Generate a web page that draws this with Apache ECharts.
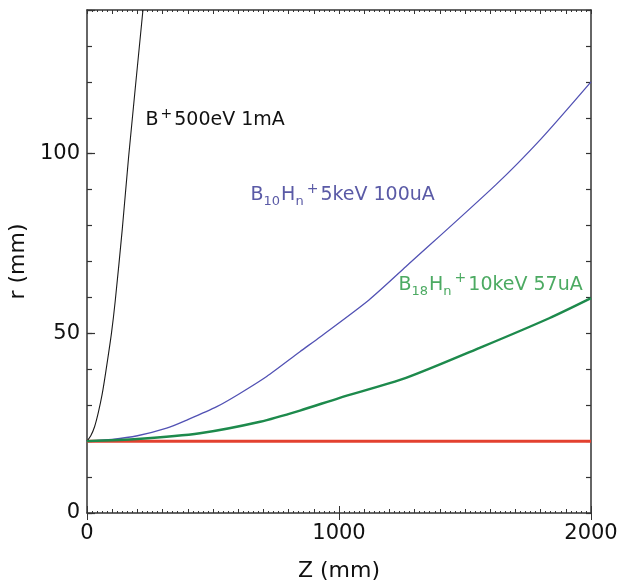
<!DOCTYPE html>
<html>
<head>
<meta charset="utf-8">
<script src="https://cdn.jsdelivr.net/npm/echarts@6/dist/echarts.min.js"></script>
<style>
  html, body { margin: 0; padding: 0; background: #fff; }
  #chart { width: 636px; height: 587px; }
</style>
</head>
<body>
<div id="chart"></div>
<script>
// Beam radius r (mm) vs. drift distance Z (mm) for several boron beams
const zB1 = [0, 15, 30, 45, 60, 75, 97, 112, 140, 165, 222];
const rB1 = [20, 21.5, 24, 28, 33, 39.5, 50, 59, 79, 99, 140];

const zB10 = [0, 100, 200, 316, 400, 515, 600, 713, 845, 925, 1119, 1266, 1623, 1800, 2000];
const rB10 = [20, 20.5, 21.5, 23.6, 26, 29.6, 33, 38, 44.9, 49, 59.3, 68.6, 91.4, 104, 120];

const zB18 = [0, 200, 448, 687, 845, 1000, 1266, 1570, 1834, 2000];
const rB18 = [20, 20.6, 22.2, 25.4, 28.5, 32, 37.6, 46.3, 54.2, 59.8];

const zRef = [0, 2000];
const rRef = [20, 20];

const xLabels = [0, 1000, 2000];
const yLabels = [0, 50, 100];

const labelB1 = { z: 230, r: 109.4 };
const labelB10 = { z: 647, r: 88.5 };
const labelB18 = { z: 1234, r: 63.5 };

const pairs = (xs, ys) => xs.map((x, i) => [x, ys[i]]);

const FONT = '"DejaVu Sans", Verdana, sans-serif';
const AXIS = '#333';

function richStyle(color) {
  return {
    b: { fontSize: 19, color: color, fontFamily: FONT, lineHeight: 26 },
    sub: { fontSize: 13, color: color, fontFamily: FONT, verticalAlign: 'bottom', padding: [7, 1, 0, 0] },
    sup: { fontSize: 14, color: color, fontFamily: FONT, verticalAlign: 'top', padding: [0, 2, 9, 2] }
  };
}

// Curve caption anchored at a data coordinate, drawn with rich text
function tag(pos, text, color) {
  return {
    symbol: 'circle',
    symbolSize: 1,
    silent: true,
    itemStyle: { color: 'rgba(0,0,0,0)' },
    label: {
      show: true,
      position: 'right',
      distance: 0,
      formatter: text,
      rich: richStyle(color)
    },
    data: [{ coord: [pos.z, pos.r] }]
  };
}

const chart = echarts.init(document.getElementById('chart'));

const xTickBase = {
  type: 'value', min: 0, max: 2000, interval: 100,
  axisLine: { show: true, onZero: false, lineStyle: { color: AXIS, width: 1.5 } },
  splitLine: { show: false },
  axisTick: { show: true, inside: true, length: 4, lineStyle: { color: AXIS, width: 1 } },
  minorTick: { show: true, splitNumber: 5, length: 2, lineStyle: { color: AXIS, width: 1 } },
  axisLabel: { show: false }
};

const yTickBase = {
  type: 'value', min: 0, max: 140, interval: 10,
  axisLine: { show: true, onZero: false, lineStyle: { color: AXIS, width: 1.5 } },
  splitLine: { show: false },
  axisTick: { show: true, inside: true, length: 5, lineStyle: { color: AXIS, width: 1.2 } },
  axisLabel: { show: false }
};

chart.setOption({
  animation: false,
  backgroundColor: '#fff',
  grid: { left: 87, right: 45, top: 10, bottom: 74, containLabel: false, outerBoundsMode: 'none' },
  xAxis: [
    Object.assign({}, xTickBase, {
      position: 'bottom',
      name: 'Z (mm)', nameLocation: 'middle', nameGap: 47,
      nameTextStyle: { fontSize: 22, color: '#111', fontFamily: FONT },
      axisLabel: {
        show: true, fontSize: 21, color: '#111', fontFamily: FONT, margin: 10,
        formatter: v => (xLabels.includes(v) ? String(v) : '')
      }
    }),
    Object.assign({}, xTickBase, { position: 'top' }),
    {
      type: 'value', min: 0, max: 2000, interval: 1000, position: 'bottom',
      axisLine: { show: false }, splitLine: { show: false }, axisLabel: { show: false },
      axisTick: { show: true, inside: true, length: 7, lineStyle: { color: AXIS, width: 1 } }
    },
    {
      type: 'value', min: 0, max: 2000, interval: 1000, position: 'top',
      axisLine: { show: false }, splitLine: { show: false }, axisLabel: { show: false },
      axisTick: { show: true, inside: true, length: 7, lineStyle: { color: AXIS, width: 1 } }
    }
  ],
  yAxis: [
    Object.assign({}, yTickBase, {
      position: 'left',
      name: 'r (mm)', nameLocation: 'middle', nameGap: 49, nameRotate: 90,
      nameTextStyle: { fontSize: 22, color: '#111', fontFamily: FONT },
      axisLabel: {
        show: true, fontSize: 21, color: '#111', fontFamily: FONT, margin: 7,
        formatter: v => (yLabels.includes(v) ? String(v) : '')
      }
    }),
    Object.assign({}, yTickBase, { position: 'right' }),
    {
      type: 'value', min: 0, max: 140, interval: 50, position: 'left',
      axisLine: { show: false }, splitLine: { show: false }, axisLabel: { show: false },
      axisTick: { show: true, inside: true, length: 8, lineStyle: { color: AXIS, width: 1.2 } }
    }
  ],
  series: [
    {
      name: 'B+ 500eV 1mA', type: 'line', data: pairs(zB1, rB1),
      showSymbol: false, smooth: 0.25, z: 3,
      lineStyle: { color: '#1a1a1a', width: 1.1 },
      markPoint: tag(labelB1, '{b|B}{sup|+}{b|500eV 1mA}', '#111')
    },
    {
      name: 'B10Hn+ 5keV 100uA', type: 'line', data: pairs(zB10, rB10),
      showSymbol: false, smooth: 0.25, z: 3,
      lineStyle: { color: '#5252b4', width: 1.3 },
      markPoint: tag(labelB10, '{b|B}{sub|10}{b|H}{sub|n}{sup|+}{b|5keV 100uA}', '#5a5aa6')
    },
    {
      name: 'reference r = 20', type: 'line', data: pairs(zRef, rRef),
      showSymbol: false, z: 2,
      lineStyle: { color: '#e3412f', width: 3 }
    },
    {
      name: 'B18Hn+ 10keV 57uA', type: 'line', data: pairs(zB18, rB18),
      showSymbol: false, smooth: 0.25, z: 4,
      lineStyle: { color: '#1d8a4c', width: 2.4 },
      markPoint: tag(labelB18, '{b|B}{sub|18}{b|H}{sub|n}{sup|+}{b|10keV 57uA}', '#4caa62')
    }
  ]
});
</script>
</body>
</html>
